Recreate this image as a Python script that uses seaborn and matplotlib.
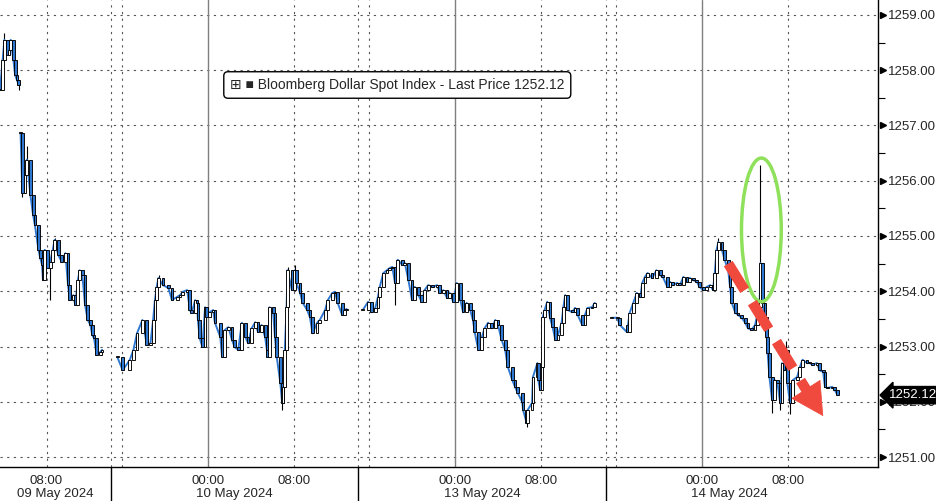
import numpy as np
import pandas as pd
import seaborn as sns
import matplotlib.pyplot as plt
from matplotlib.patches import Ellipse

sns.set_style("white")
plt.rcParams['font.family'] = ['Liberation Sans', 'DejaVu Sans']
plt.rcParams['font.size'] = 9.5

# --- data (15-ish minute closes, Bloomberg Dollar Spot Index) ---
may09a_times = ["03:40", "03:55", "04:05", "04:20", "04:30", "04:40", "04:55", "05:05", "05:15", "05:25"]
may09a_close = [1257.64, 1258.19, 1258.55, 1258.28, 1258.37, 1258.55, 1258.19, 1257.91, 1257.82, 1257.73]

may09b_times = ["05:35", "05:45", "06:00", "06:10", "06:30", "06:45", "06:55", "07:15", "07:25", "07:35",
                "07:40", "07:50", "08:05", "08:20", "08:35", "08:45", "09:05", "09:25", "09:45", "10:00",
                "10:10", "10:30", "10:40", "10:55", "11:05", "11:20", "11:35", "11:50", "12:05", "12:15",
                "12:25", "12:40", "13:00", "13:10"]
may09b_close = [1256.86, 1255.78, 1256.10, 1256.38, 1255.74, 1255.38, 1255.20, 1254.75, 1254.60, 1254.48,
                1254.20, 1254.75, 1254.42, 1254.53, 1254.75, 1254.93, 1254.66, 1254.53, 1254.69, 1254.11,
                1253.84, 1253.93, 1253.75, 1254.20, 1254.38, 1254.29, 1253.75, 1253.48, 1253.39, 1253.21,
                1253.15, 1252.85, 1252.90, 1252.94]

may10_times = ["15:35", "16:05", "16:45", "17:05", "17:25", "17:55", "18:20", "18:40", "18:55", "19:05",
               "19:15", "19:25", "19:50", "20:20", "20:40", "21:10", "21:25", "21:40", "22:05", "22:20",
               "22:30", "22:50", "23:00", "23:05", "23:15", "23:30", "23:45", "23:55",
               "00:10", "00:30", "00:40", "01:10", "01:20", "01:35", "01:55", "02:15", "02:30", "02:50",
               "03:10", "03:30", "03:45", "04:05", "04:25", "04:40", "05:00", "05:20", "05:30", "05:35",
               "05:45", "06:05", "06:15", "06:25", "06:45", "06:55", "07:00", "07:10", "07:20", "07:25",
               "07:50", "08:05", "08:15", "08:35", "08:50", "09:15", "09:30", "09:45", "10:10", "10:25",
               "10:55", "11:10", "11:35", "11:50", "12:05", "12:30", "12:45", "12:55"]
may10_close = [1252.81, 1252.57, 1252.76, 1252.94, 1253.24, 1253.48, 1253.03, 1253.06, 1253.48, 1253.84,
               1254.08, 1254.24, 1254.11, 1254.06, 1253.84, 1253.90, 1253.93, 1253.99, 1254.02, 1253.66,
               1253.61, 1253.84, 1253.79, 1253.48, 1253.15, 1252.99, 1253.71, 1253.53,
               1253.62, 1253.66, 1253.43, 1253.17, 1252.81, 1253.30, 1253.35, 1253.12, 1252.99, 1252.94,
               1253.43, 1253.17, 1253.06, 1253.33, 1253.44, 1253.26, 1253.39, 1253.17, 1252.94, 1252.81,
               1253.71, 1253.61, 1253.17, 1252.81, 1252.34, 1251.98, 1252.27, 1252.94, 1253.71, 1254.38,
               1254.02, 1254.38, 1254.15, 1253.97, 1253.79, 1253.66, 1253.53, 1253.24, 1253.43, 1253.48,
               1253.66, 1253.84, 1253.97, 1253.99, 1253.79, 1253.57, 1253.66, 1253.68]

may13_times = ["15:25", "15:55", "16:15", "16:35", "16:50", "17:00", "17:20", "17:40", "17:55", "18:10",
               "18:25", "18:40", "19:05", "19:20", "19:40", "20:00", "20:15", "20:35", "20:55", "21:10",
               "21:30", "21:55", "22:20", "22:35", "22:55", "23:15", "23:30", "23:50",
               "00:10", "00:30", "00:45", "01:05", "01:25", "01:40", "01:50", "02:10", "02:30", "02:45",
               "03:05", "03:25", "03:45", "04:00", "04:20", "04:40", "04:55", "05:20", "05:35", "05:50",
               "06:15", "06:20", "06:40", "06:45", "07:10", "07:15", "07:40", "07:45", "07:55", "08:05",
               "08:10", "08:20", "08:35", "08:50", "09:05", "09:20", "09:35", "09:55", "10:05", "10:15",
               "10:30", "10:55", "11:10", "11:25", "11:50", "12:05", "12:20", "12:45", "13:00"]
may13_close = [1253.66, 1253.81, 1253.62, 1253.70, 1253.90, 1254.08, 1254.33, 1254.38, 1254.42, 1254.44,
               1254.15, 1254.57, 1254.48, 1254.51, 1254.20, 1253.84, 1254.08, 1253.93, 1253.81, 1254.02,
               1254.11, 1254.08, 1254.11, 1253.97, 1254.02, 1253.88, 1253.97, 1253.81,
               1254.15, 1253.84, 1253.62, 1253.79, 1253.66, 1253.48, 1253.26, 1252.94, 1253.17, 1253.33,
               1253.43, 1253.33, 1253.48, 1253.39, 1253.12, 1252.94, 1252.63, 1252.39, 1252.27, 1252.16,
               1252.00, 1251.85, 1251.62, 1251.85, 1251.98, 1252.45, 1252.70, 1252.39, 1252.21, 1252.63,
               1253.53, 1253.66, 1253.81, 1253.52, 1253.35, 1253.12, 1253.21, 1253.43, 1253.71, 1253.93,
               1253.66, 1253.62, 1253.70, 1253.57, 1253.39, 1253.57, 1253.70, 1253.71, 1253.79]

may14_times = ["15:35", "16:05", "16:20", "17:00", "17:15", "17:35", "17:55", "18:15", "18:25", "18:40",
               "18:55", "19:20", "19:45", "20:05", "20:20", "20:45", "21:00", "21:15", "21:40", "21:55",
               "22:15", "22:35", "22:50", "23:10", "23:30", "23:45",
               "00:05", "00:25", "00:45", "01:00", "01:10", "01:20", "01:30", "01:50", "02:05", "02:25",
               "02:35", "02:45", "03:05", "03:20", "03:40", "04:00", "04:15", "04:35", "04:55", "05:10",
               "05:20", "05:25", "05:35", "05:50", "06:00", "06:05", "06:15", "06:30", "06:45", "07:00",
               "07:15", "07:25", "07:40", "07:50", "07:55", "08:10", "08:25", "08:50", "09:05", "09:20",
               "09:45", "10:00", "10:15", "10:40", "10:55", "11:15", "11:25", "11:40", "12:05", "12:20",
               "12:35"]
may14_close = [1253.52, 1253.52, 1253.39, 1253.26, 1253.61, 1253.79, 1253.97, 1253.90, 1254.15, 1254.26,
               1254.33, 1254.24, 1254.38, 1254.29, 1254.26, 1254.08, 1254.17, 1254.11, 1254.15, 1254.11,
               1254.26, 1254.17, 1254.24, 1254.20, 1254.17, 1254.08,
               1254.02, 1254.08, 1254.11, 1254.02, 1254.33, 1254.75, 1254.89, 1254.75, 1254.57, 1254.38,
               1254.08, 1253.79, 1253.61, 1253.57, 1253.52, 1253.43, 1253.33, 1253.30, 1253.39, 1253.61,
               1253.71, 1254.51, 1253.79, 1253.53, 1253.17, 1252.88, 1252.45, 1252.03, 1252.39, 1252.34,
               1251.98, 1252.70, 1252.57, 1252.94, 1252.34, 1251.98, 1252.39, 1252.45, 1252.63, 1252.76,
               1252.70, 1252.70, 1252.67, 1252.70, 1252.57, 1252.54, 1252.27, 1252.25, 1252.27, 1252.21,
               1252.12]

wick_high = {"2024-05-09 04:05": 1258.67, "2024-05-09 06:10": 1256.62, "2024-05-09 08:45": 1254.96,
             "2024-05-09 19:25": 1254.29, "2024-05-10 07:25": 1254.44, "2024-05-10 08:05": 1254.48,
             "2024-05-14 01:30": 1254.96, "2024-05-14 05:25": 1256.28, "2024-05-14 07:50": 1253.10}
wick_low = {"2024-05-09 05:25": 1257.64, "2024-05-09 05:45": 1255.70, "2024-05-09 08:20": 1253.84,
            "2024-05-10 06:55": 1251.85, "2024-05-12 18:25": 1253.75, "2024-05-13 06:40": 1251.55,
            "2024-05-14 06:30": 1251.80, "2024-05-14 07:15": 1251.85, "2024-05-14 08:10": 1251.78}

segments = [("09a", "2024-05-09", may09a_times, may09a_close),
            ("09b", "2024-05-09", may09b_times, may09b_close),
            ("10", "2024-05-09", may10_times, may10_close),
            ("13", "2024-05-12", may13_times, may13_close),
            ("14", "2024-05-13", may14_times, may14_close)]

session_days = list(pd.to_datetime(["2024-05-09", "2024-05-10", "2024-05-13", "2024-05-14"]))
day_labels = ["09 May 2024", "10 May 2024", "13 May 2024", "14 May 2024"]
last_price = 1252.12
title = "Bloomberg Dollar Spot Index - Last Price 1252.12"

blue = "#2f78d2"
red = "#f0493d"
green = "#8fe05a"


def stamps(start, times):
    day = pd.Timestamp(start)
    out = []
    for t in times:
        ts = day + pd.Timedelta(t + ":00")
        if out and ts < out[-1]:
            day += pd.Timedelta(days=1)
            ts += pd.Timedelta(days=1)
        out.append(ts)
    return out


# trading clock: sessions run 15:00 -> 14:00 next day (23h), weekend dropped
def trading_pos(ts):
    shifted = ts + pd.Timedelta(hours=9)
    day = shifted.normalize()
    k = session_days.index(day)
    return k * 23 + (shifted - day) / pd.Timedelta(hours=1)


frames = []
for seg, start, times, close in segments:
    d = pd.DataFrame({"seg": seg, "ts": stamps(start, times), "close": close})
    d["open"] = d["close"].shift(1).fillna(d["close"])
    frames.append(d)
df = pd.concat(frames, ignore_index=True)
df["pos"] = df["ts"].map(trading_pos)
key = df["ts"].dt.strftime("%Y-%m-%d %H:%M")
df["high"] = np.maximum(df["open"], df["close"])
df["low"] = np.minimum(df["open"], df["close"])
df["high"] = np.maximum(df["high"], key.map(wick_high).fillna(0))
df["low"] = np.minimum(df["low"], key.map(wick_low).fillna(9999))

fig = plt.figure(figsize=(9.36, 5.01), dpi=100)
ax = fig.add_axes([0, 34 / 501, 878 / 936, 467 / 501])
x0, x1 = 12.67, 94.35

# grid
for v in range(1251, 1260):
    ax.axhline(v, color="#555555", lw=0.8, ls=(0, (2, 4)), zorder=0)
for k in range(4):
    for h in (0, 1, 17):
        ax.axvline(23 * k + h, color="#555555", lw=0.8, ls=(0, (2, 4)), zorder=0)
    ax.axvline(23 * k + 9, color="#7f7f7f", lw=1.0, zorder=0)

# candles + close line
up = df["close"] >= df["open"]
bottoms = np.minimum(df["open"], df["close"])
heights = np.maximum((df["close"] - df["open"]).abs(), 0.015)
ax.vlines(df["pos"], df["low"], df["high"], colors="black", linewidth=0.8, zorder=2)
sns.lineplot(data=df, x="pos", y="close", units="seg", estimator=None, sort=False,
             color=blue, linewidth=1.4, ax=ax, zorder=3)
ax.bar(df["pos"], heights, bottom=bottoms, width=0.26, color=np.where(up, "white", blue),
       edgecolor="black", linewidth=0.65, zorder=4)

ax.set_xlabel("")
ax.set_ylabel("")

for s in ("top", "left"):
    ax.spines[s].set_visible(False)
for s in ("right", "bottom"):
    ax.spines[s].set_color("black")
    ax.spines[s].set_linewidth(1.0)

# y axis on the right
ax.yaxis.tick_right()
ax.set_yticks(range(1251, 1260))
ax.set_yticklabels([f"{v:.2f}" for v in range(1251, 1260)], fontsize=9.5)
ax.set_yticks(np.arange(1251.5, 1259, 1.0), minor=True)
ax.tick_params(axis="y", which="major", length=0, pad=7)
ax.tick_params(axis="y", which="minor", length=5, width=0.8, color="black", direction="out")
ax.plot([1.006] * 9, range(1251, 1260), marker=">", ms=5, color="black", ls="none",
        transform=ax.get_yaxis_transform(), clip_on=False)

# x axis: 4-hourly ticks, labels at 00:00 and 08:00
xt, xl = [], []
for k in range(4):
    for h, lab in ((1, ""), (5, ""), (9, "00:00"), (13, ""), (17, "08:00"), (21, "")):
        if x0 <= 23 * k + h <= x1:
            xt.append(23 * k + h)
            xl.append(lab)
ax.set_xticks(xt)
ax.set_xticklabels(xl, fontsize=9.5)
ax.tick_params(axis="x", which="major", length=5, width=0.8, color="black", pad=1, direction="out")
ax.vlines([23, 46, 69], -34 / 467, 0, colors="black", lw=1.0,
          transform=ax.get_xaxis_transform(), clip_on=False)
centers = [(x0 + 23) / 2, 34.5, 57.5, 80.5]
for c, lab in zip(centers, day_labels):
    ax.text(c, -27 / 467, lab, ha="center", va="center", fontsize=9.5,
            transform=ax.get_xaxis_transform())

ax.set_xlim(x0, x1)
ax.set_ylim(1250.82, 1259.27)

# last price tag
ax.text(1.013, last_price, f"{last_price:.2f}", color="white", fontsize=9.5, ha="left", va="center",
        transform=ax.get_yaxis_transform(), clip_on=False, zorder=10,
        bbox=dict(boxstyle="larrow,pad=0.2", fc="black", ec="black"))

# legend box
ax.text(0.262, 0.818, "\u229e \u25a0 " + title, transform=ax.transAxes, fontsize=10,
        ha="left", va="center", zorder=10,
        bbox=dict(boxstyle="round,pad=0.45,rounding_size=0.3", fc="white", ec="black", lw=1))

# annotations
spike = trading_pos(pd.Timestamp("2024-05-14 05:30"))
ax.add_patch(Ellipse((spike, 1255.11), width=3.7, height=2.6, fill=False, ec=green, lw=2.5, zorder=6))
a0 = (trading_pos(pd.Timestamp("2024-05-14 02:25")), 1254.50)
a1 = (trading_pos(pd.Timestamp("2024-05-14 09:40")), 1252.22)
tip = (trading_pos(pd.Timestamp("2024-05-14 11:15")), 1251.74)
ax.plot([a0[0], a1[0]], [a0[1], a1[1]], color=red, lw=7.5, ls=(0, (3, 1.4)), zorder=7,
        solid_capstyle="butt", dash_capstyle="butt")
ax.annotate("", xy=tip, xytext=a1, zorder=7,
            arrowprops=dict(arrowstyle="-|>,head_length=1.4,head_width=0.75", color=red, lw=0.5,
                            mutation_scale=16, shrinkA=0, shrinkB=0))

fig.savefig("out.png", dpi=100, facecolor="white")
